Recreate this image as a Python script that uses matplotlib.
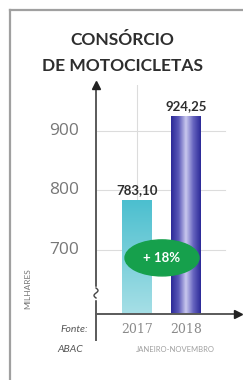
import numpy as np
import matplotlib.pyplot as plt
from matplotlib.patches import Ellipse
from matplotlib.colors import LinearSegmentedColormap

# data
years = ["2017", "2018"]
values = [783.10, 924.25]
value_labels = ["783,10", "924,25"]
yticks = [700, 800, 900]
growth = "+ 18%"

fig = plt.figure(figsize=(2.43, 3.8), dpi=100)
W, H = 243, 380

# outer frame (top and left border)
fig.add_artist(plt.Line2D([10/W, 1], [1 - 10/H, 1 - 10/H], color="#a0a0a0", lw=1.6))
fig.add_artist(plt.Line2D([10/W, 10/W], [0, 1 - 10/H], color="#a0a0a0", lw=1.6))

# title
fig.text(122/W, 1 - 40/H, "CONSÓRCIO", ha="center", va="center",
         fontsize=12.5, fontweight="bold", color="#2e2e2e", family="Lato")
fig.text(122/W, 1 - 66/H, "DE MOTOCICLETAS", ha="center", va="center",
         fontsize=12.5, fontweight="bold", color="#2e2e2e", family="Lato")

# axes: x from 96px to 238px, y from 314px up to 85px
ax = fig.add_axes([96/W, 1 - 314/H, (238 - 96)/W, (314 - 85)/H])
ax.set_xlim(-0.837, 2.061)
ax.set_ylim(592.4, 977)
for s in ax.spines.values():
    s.set_visible(False)
ax.set_xticks([])
ax.set_yticks([])

# grid lines
for t in yticks:
    ax.plot([-0.837, 1.8], [t, t], color="#dcdcdc", lw=0.8, zorder=0)
ax.plot([0, 0], [592.4, 977], color="#dcdcdc", lw=0.8, zorder=0)

# bars with gradients
x = np.arange(len(values))
bw = 0.61
bars = ax.bar(x, values, width=bw, bottom=0, color="none", zorder=2)
cm1 = LinearSegmentedColormap.from_list("c1", ["#a6dfe6", "#4cbfcf"])
cm2 = LinearSegmentedColormap.from_list("c2", ["#2c2a98", "#5a58b8", "#c9c8ee", "#6664bf", "#2c2a98"])
vgrad = np.linspace(0, 1, 100).reshape(-1, 1)
hgrad = np.linspace(0, 1, 100).reshape(1, -1)
ax.imshow(vgrad, cmap=cm1, aspect="auto", origin="lower",
          extent=[x[0] - bw/2, x[0] + bw/2, 592.4, values[0]], zorder=2)
ax.imshow(hgrad, cmap=cm2, aspect="auto",
          extent=[x[1] - bw/2, x[1] + bw/2, 592.4, values[1]], zorder=2)
ax.set_xlim(-0.837, 2.061)
ax.set_ylim(592.4, 977)

# value labels
for xi, v, lab in zip(x, values, value_labels):
    ax.text(xi, v + 8, lab, ha="center", va="bottom", fontsize=9.5,
            fontweight="bold", color="#2e2e2e", family="Lato")

# y tick labels
for t in yticks:
    ax.text(-0.837 - 32/49, t, str(t), ha="center", va="center",
            fontsize=12.5, color="#777777", family="Open Sans", clip_on=False)

# growth badge
ax.add_patch(Ellipse((0.51, 686.6), 1.51, 60.5, color="#16a04c", zorder=4))
ax.text(0.51, 686.6, growth, ha="center", va="center", fontsize=9.5,
        fontweight="bold", color="white", family="Lato", zorder=5)

# axis lines with arrows
ax.plot([0, 0], [-26/229, 0.985], transform=ax.transAxes, color="#5a5a5a",
        lw=1.4, clip_on=False, zorder=3)
ax.plot([0], [1.0], marker="^", ms=6, color="#222222", transform=ax.transAxes,
        clip_on=False, zorder=3)
ax.plot([0, 0.985], [0, 0], transform=ax.transAxes, color="#5a5a5a",
        lw=1.4, clip_on=False, zorder=3)
ax.plot([1.0], [0], marker=">", ms=6, color="#222222", transform=ax.transAxes,
        clip_on=False, zorder=3)
# axis break: white gap plus small squiggle
yb = 1 - (293 - 85)/229
ax.plot([0, 0], [yb - 5/229, yb + 5/229], transform=ax.transAxes,
        color="white", lw=2.5, clip_on=False, zorder=4)
tt = np.linspace(-1, 1, 30)
ax.plot(np.sin(tt * np.pi) * 2/142, yb + tt * 5/229, transform=ax.transAxes,
        color="#444444", lw=1.0, clip_on=False, zorder=5)

# category labels
for xi, yr in zip(x, years):
    ax.text(xi, 592.4 - 15/0.595, yr, ha="center", va="center", fontsize=9,
            color="#8a8a8a", family="DejaVu Serif", clip_on=False)
fig.text(175/W, 1 - 350/H, "JANEIRO-NOVEMBRO", ha="center", va="center",
         fontsize=5.5, color="#a0a0a0", family="Lato")

# source and unit
fig.text(88/W, 1 - 329/H, "Fonte:", ha="right", va="center", fontsize=7.5,
         style="italic", color="#555555", family="Lato")
fig.text(83/W, 1 - 349/H, "ABAC", ha="right", va="center", fontsize=7.5,
         style="italic", color="#555555", family="Lato")
fig.text(28/W, 1 - 289/H, "MILHARES", ha="center", va="center", rotation=90,
         fontsize=6, color="#777777", family="Lato")

fig.savefig("out.png", dpi=100, facecolor="white")
